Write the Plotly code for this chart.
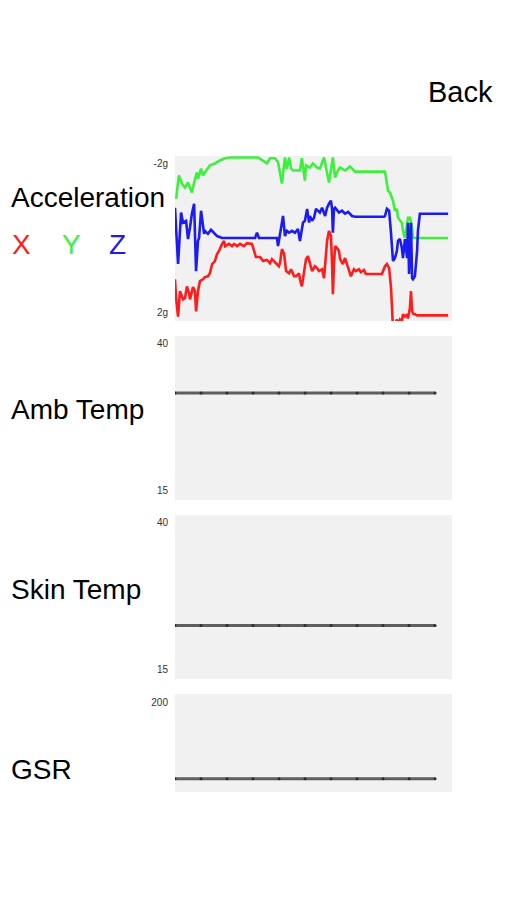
import plotly.graph_objects as go

# ---- sensor data ----
# accelerometer samples: time (s) and acceleration (g) per axis
accel_x_t = [0, 0.4, 1.1, 1.8, 2.9, 3.6, 4.3, 5.1, 5.4, 6.5, 7.2, 7.6, 8.3, 9.0, 10.1, 10.8, 11.9,
             12.6, 13.4, 14.4, 15.2, 15.9, 17.0, 17.7, 18.1, 19.5, 20.6, 21.3, 22.4, 23.5, 24.9, 26.0,
             27.8, 28.5, 29.2, 30.7, 31.8, 33.2, 34.3, 35.0, 36.5, 37.5, 37.9, 38.6, 39.4, 40.1, 41.2,
             41.9, 43.0, 43.7, 44.8, 45.1, 45.8, 46.6, 47.3, 48.0, 48.7, 49.5, 50.5, 51.3, 52.0, 53.1,
             53.8, 54.2, 54.9, 55.6, 56.3, 56.7, 57.0, 57.4, 57.8, 58.5, 59.2, 59.6, 60.6, 61.4, 62.1,
             62.8, 63.5, 64.6, 65.3, 66.4, 67.1, 68.2, 68.9, 74.7, 75.8, 76.5, 77.3, 78.0, 78.3, 78.7,
             80.1, 80.5, 81.2, 81.9, 82.3, 83.0, 83.8, 84.1, 84.8, 85.2, 85.6, 85.9, 86.6, 87.4, 98.6]
accel_x_g = [1.11, 1.62, 2.11, 1.43, 1.65, 1.62, 1.30, 1.49, 1.65, 1.32, 1.43, 1.97, 1.43, 1.16, 1.11,
             1.05, 1.03, 0.95, 0.70, 0.62, 0.43, 0.35, 0.16, 0.08, 0.22, 0.16, 0.22, 0.16, 0.22, 0.16,
             0.22, 0.14, 0.16, 0.35, 0.51, 0.51, 0.62, 0.59, 0.68, 0.57, 0.68, 0.76, 0.68, 0.30, 0.43,
             0.89, 0.95, 0.84, 1.03, 1.03, 0.95, 1.11, 1.30, 0.97, 0.57, 0.49, 0.70, 0.89, 0.76, 0.81,
             0.89, 0.84, 1.08, 0.70, 0.08, -0.19, -0.05, 0.70, 1.51, 0.70, 0.22, 0.27, 0.35, 0.57, 0.70,
             0.54, 0.70, 0.89, 1.03, 0.84, 0.89, 0.84, 0.92, 0.86, 0.97, 0.97, 0.76, 0.70, 0.81, 1.35,
             2.16, 2.43, 2.19, 2.30, 2.19, 2.24, 2.05, 2.11, 2.05, 2.16, 1.89, 1.43, 1.95, 2.03, 2.05,
             2.08, 2.08]

accel_y_t = [0.4, 1.4, 2.5, 3.6, 4.7, 6.1, 6.9, 7.9, 8.3, 9.4, 10.1, 11.6, 12.6, 14.4, 16.2, 18.1,
             19.9, 30.0, 33.2, 34.3, 36.1, 37.2, 38.6, 39.7, 40.4, 41.2, 41.9, 42.6, 45.1, 45.8, 46.9,
             47.3, 48.7, 49.8, 51.3, 52.3, 53.8, 55.6, 57.0, 57.8, 58.8, 59.6, 61.4, 63.2, 64.3, 65.0,
             75.8, 76.5, 76.9, 77.6, 78.7, 79.4, 80.1, 80.5, 81.9, 82.3, 83.0, 83.8, 84.1, 84.8, 85.6,
             85.9, 98.6]
accel_y_g = [-1.05, -1.68, -1.46, -1.35, -1.49, -1.22, -1.49, -1.76, -1.59, -1.86, -1.68, -1.86, -1.95,
             -2.00, -2.08, -2.14, -2.16, -2.16, -2.00, -2.14, -2.14, -2.03, -1.46, -2.16, -1.86, -2.16,
             -1.86, -1.81, -1.81, -2.14, -1.54, -1.95, -1.89, -2.00, -1.89, -1.86, -2.16, -1.49, -2.16,
             -1.62, -1.81, -1.89, -1.81, -1.92, -1.84, -1.78, -1.78, -1.46, -1.27, -1.22, -1.00, -0.73,
             -0.78, -0.54, -0.41, -0.19, 0.00, -0.38, -0.54, -0.54, -0.27, 0.00, 0.00]

accel_z_t = [0, 1.1, 2.2, 2.9, 4.0, 4.7, 5.4, 6.1, 6.9, 7.2, 7.6, 8.3, 8.7, 9.4, 10.5, 10.8, 11.9,
             13.0, 14.1, 15.2, 17.0, 28.9, 29.6, 30.3, 36.8, 37.2, 39.0, 39.7, 40.4, 41.2, 42.2, 43.3,
             44.4, 45.1, 46.2, 46.9, 47.7, 48.4, 48.7, 49.5, 50.2, 50.9, 52.3, 53.1, 54.2, 54.9, 55.6,
             56.3, 56.7, 57.0, 57.4, 57.8, 59.2, 60.3, 61.4, 62.5, 63.9, 65.0, 75.5, 75.8, 76.5, 77.3,
             78.0, 78.7, 79.4, 80.1, 80.5, 81.2, 81.9, 82.3, 83.0, 83.8, 84.1, 84.5, 85.2, 85.6, 85.9,
             86.6, 87.4, 87.7, 88.4, 98.6]
accel_z_g = [-0.81, 0.70, -0.68, -0.41, -0.46, 0.03, -0.27, -0.65, -0.92, 0.00, 0.89, 0.08, 0.00,
             -0.73, -0.11, -0.19, -0.11, -0.22, -0.14, -0.05, 0.00, 0.00, -0.14, 0.00, 0.00, 0.22, -0.59,
             -0.05, -0.19, -0.14, -0.19, -0.14, -0.24, 0.08, -0.41, -0.46, -0.78, -0.41, -0.59, -0.46,
             -0.54, -0.78, -0.68, -0.81, -0.59, -0.81, -0.92, -1.00, -0.78, -0.14, -0.78, -0.81, -0.68,
             -0.73, -0.65, -0.70, -0.59, -0.57, -0.57, -0.59, -0.78, -0.73, -0.11, 0.62, 0.54, 0.35,
             0.08, 0.03, 0.27, 0.54, 0.03, 0.54, -0.41, 0.97, -0.41, 1.08, 1.11, 1.03, 0.35, -0.19,
             -0.65, -0.65]

# slow sensors: one reading per interval
reading_idx = [0, 1, 2, 3, 4, 5, 6, 7, 8, 9, 10]
amb_temp = [31.6] * 11
skin_temp = [22.5] * 11
gsr = [30] * 11

# axis ranges and ticks
accel_range = [2.23, -2.2]
accel_ticks = [-2, 2]
accel_ticktext = ["-2g", "2g"]
temp_range = [13.4, 41.3]
temp_ticks = [15, 40]
gsr_range = [0, 220]
gsr_ticks = [200]

W, H = 507, 900
panel_bg = "#f1f1f1"
font_family = "Liberation Sans, Arial, Helvetica, sans-serif"
red, green, blue = "#ff1c1c", "#3ef03e", "#1c1cf0"

fig = go.Figure()

# accelerometer traces
for t, g, c in [(accel_y_t, accel_y_g, green), (accel_z_t, accel_z_g, blue), (accel_x_t, accel_x_g, red)]:
    fig.add_trace(go.Scatter(x=t, y=g, mode="lines", line=dict(color=c, width=2.6),
                             xaxis="x", yaxis="y", hoverinfo="skip"))

# flat-line sensors
for ax, vals in [("2", amb_temp), ("3", skin_temp), ("4", gsr)]:
    fig.add_trace(go.Scatter(x=reading_idx, y=vals, mode="lines+markers",
                             line=dict(color="#5f5f5f", width=3),
                             marker=dict(color="#2e2e2e", size=3),
                             xaxis="x" + ax, yaxis="y" + ax, hoverinfo="skip"))

x_dom = [175 / W, 452 / W]


def ydom(top, bottom):
    return [1 - bottom / H, 1 - top / H]


tickfont = dict(family=font_family, size=10, color="#333333")
common_x = dict(domain=x_dom, showgrid=False, zeroline=False, showticklabels=False,
                showline=False, ticks="", fixedrange=True)
common_y = dict(showgrid=False, zeroline=False, showline=False, ticks="",
                tickfont=tickfont, ticklabelstandoff=6, fixedrange=True)

fig.update_layout(
    width=W, height=H,
    margin=dict(l=0, r=0, t=0, b=0),
    paper_bgcolor="white",
    showlegend=False,
    xaxis=dict(common_x, range=[0, 100], anchor="y"),
    yaxis=dict(common_y, domain=ydom(156, 321), range=accel_range,
               tickvals=accel_ticks, ticktext=accel_ticktext, anchor="x"),
    xaxis2=dict(common_x, range=[0, 10.65], anchor="y2"),
    yaxis2=dict(common_y, domain=ydom(336, 500), range=temp_range, tickvals=temp_ticks, anchor="x2"),
    xaxis3=dict(common_x, range=[0, 10.65], anchor="y3"),
    yaxis3=dict(common_y, domain=ydom(515, 679), range=temp_range, tickvals=temp_ticks, anchor="x3"),
    xaxis4=dict(common_x, range=[0, 10.65], anchor="y4"),
    yaxis4=dict(common_y, domain=ydom(694, 792), range=gsr_range, tickvals=gsr_ticks, anchor="x4"),
)

# panel backgrounds
for top, bottom in [(156, 321), (336, 500), (515, 679), (694, 792)]:
    d = ydom(top, bottom)
    fig.add_shape(type="rect", xref="paper", yref="paper", x0=x_dom[0], x1=x_dom[1],
                  y0=d[0], y1=d[1], fillcolor=panel_bg, line_width=0, layer="below")


def label(text, x_px, y_px, size=28, color="black", anchor="left"):
    fig.add_annotation(text=text, xref="paper", yref="paper", x=x_px / W, y=1 - y_px / H,
                       xanchor=anchor, yanchor="middle", showarrow=False,
                       font=dict(family=font_family, size=size, color=color))


label("Back", 495, 92, size=29, anchor="right")
label("Acceleration", 9, 198)
label("X", 10, 245, color=red)
label("Y", 60, 245, color=green)
label("Z", 107, 245, color=blue)
label("Amb Temp", 9, 410)
label("Skin Temp", 9, 589)
label("GSR", 9, 769)

fig.write_html("out.html")
